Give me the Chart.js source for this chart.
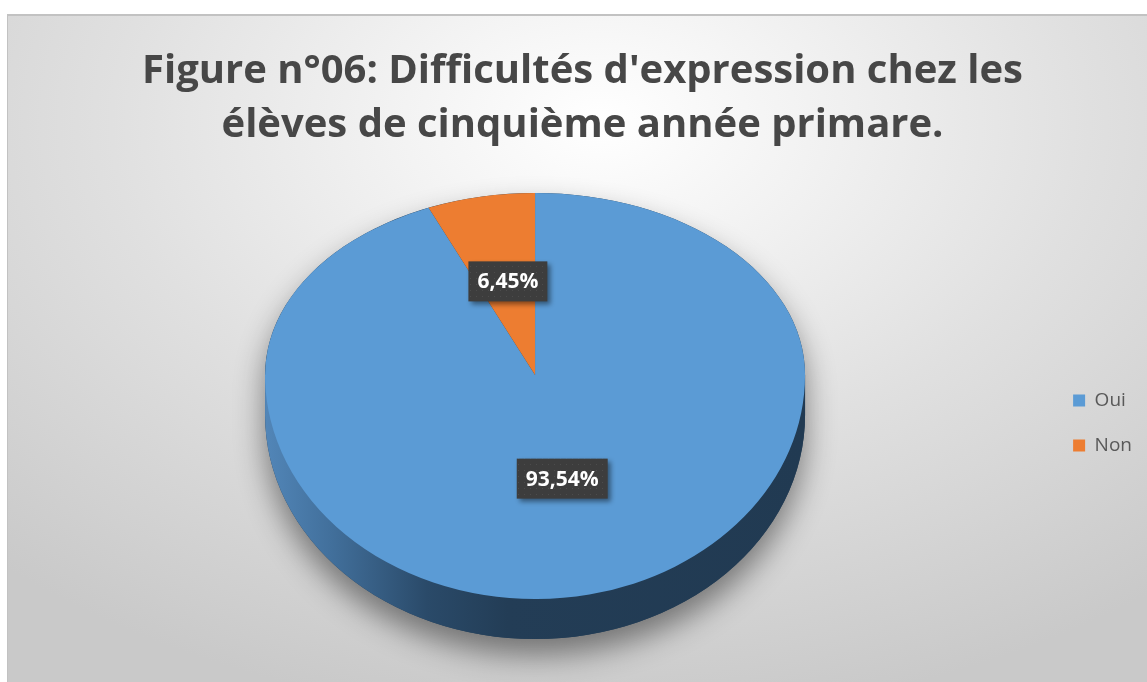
<!DOCTYPE html>
<html>
<head>
<meta charset="utf-8">
<script src="https://cdn.jsdelivr.net/npm/chart.js@4.4.1/dist/chart.umd.min.js"></script>
<style>
  html, body { margin: 0; padding: 0; background: #fff; }
  #frame {
    position: absolute; left: 7px; top: 14px; width: 1140px; height: 668px;
    box-sizing: border-box;
    border-top: 2px solid #c2c2c2; border-left: 1px solid #c2c2c2;
    background: radial-gradient(ellipse 78% 90% at 52% 16%, #ffffff 0%, #f3f3f3 22%, #e0e0e0 55%, #c9c9c9 100%);
  }
  #chart { position: absolute; left: 0; top: 0; }
</style>
</head>
<body>
<div id="frame"></div>
<canvas id="chart" width="1147" height="682"></canvas>
<script>
const categories = ['Oui', 'Non'];
const percentages = [93.54, 6.45];
const sliceColors = ['#5B9BD5', '#ED7D31'];
const titleLines = ["Figure n°06: Difficultés d'expression chez les", "élèves de cinquième année primare."];

// fake 3D look: the disc is squashed and given a side wall
const TOP_FACE_Y = 375;
const SQUASH_TOP = 0.674;
const SQUASH_BOTTOM = 0.83;
const DEPTH = 40;

function formatPct(v) {
  return v.toFixed(2).replace('.', ',') + '%';
}

// perspective-ish vertical mapping for points on the disc (used for labels)
function projectY(dy, r) {
  const c = (SQUASH_BOTTOM - SQUASH_TOP) / (SQUASH_BOTTOM + SQUASH_TOP);
  const k = r * SQUASH_BOTTOM * (1 - c);
  const d = dy / r;
  return k * d / (1 - c * d);
}

// clip to one half of the disc and squash it
function withHalf(chart, half, fn) {
  const ctx = chart.ctx;
  const arc = chart.getDatasetMeta(0).data[0];
  ctx.save();
  ctx.beginPath();
  if (half === 'top') ctx.rect(0, 0, chart.width, TOP_FACE_Y + 1);
  else ctx.rect(0, TOP_FACE_Y, chart.width, chart.height);
  ctx.clip();
  ctx.translate(arc.x, TOP_FACE_Y);
  ctx.scale(1, half === 'top' ? SQUASH_TOP : SQUASH_BOTTOM);
  ctx.translate(-arc.x, -arc.y);
  fn(ctx);
  ctx.restore();
}

function labelPattern(ctx) {
  const c = document.createElement('canvas');
  c.width = 6; c.height = 6;
  const g = c.getContext('2d');
  g.fillStyle = '#3d3d3d';
  g.fillRect(0, 0, 6, 6);
  g.fillStyle = '#4c4c4c';
  g.fillRect(2, 2, 1, 1);
  return ctx.createPattern(c, 'repeat');
}

const pie3d = {
  id: 'pie3d',
  beforeDatasetsDraw(chart) {
    const ctx = chart.ctx;
    const arcs = chart.getDatasetMeta(0).data;
    const x = arcs[0].x;
    const r = arcs[0].outerRadius;

    // drop shadow under the whole body
    ctx.save();
    ctx.shadowColor = 'rgba(0,0,0,0.45)';
    ctx.shadowBlur = 30;
    ctx.shadowOffsetY = 16;
    ctx.fillStyle = '#233d55';
    ctx.beginPath();
    ctx.ellipse(x, TOP_FACE_Y, r, r * SQUASH_TOP, 0, Math.PI, 2 * Math.PI);
    ctx.lineTo(x + r, TOP_FACE_Y + DEPTH);
    ctx.ellipse(x, TOP_FACE_Y + DEPTH, r, r * SQUASH_BOTTOM, 0, 0, Math.PI);
    ctx.closePath();
    ctx.fill();
    ctx.restore();

    // side wall
    const side = ctx.createLinearGradient(x - r, 0, x + r, 0);
    side.addColorStop(0, '#5286b8');
    side.addColorStop(0.12, '#42709c');
    side.addColorStop(0.3, '#2a4a69');
    side.addColorStop(0.45, '#233d56');
    side.addColorStop(1, '#213a52');
    ctx.save();
    ctx.fillStyle = side;
    ctx.beginPath();
    ctx.moveTo(x - r, TOP_FACE_Y);
    ctx.lineTo(x + r, TOP_FACE_Y);
    ctx.lineTo(x + r, TOP_FACE_Y + DEPTH);
    ctx.ellipse(x, TOP_FACE_Y + DEPTH, r, r * SQUASH_BOTTOM, 0, 0, Math.PI);
    ctx.closePath();
    ctx.fill();
    ctx.restore();

    // top face from the library's arcs
    ['top', 'bottom'].forEach(half => {
      withHalf(chart, half, c => arcs.forEach(a => a.draw(c)));
    });

    // data labels
    const pat = labelPattern(ctx);
    ctx.save();
    ctx.font = 'bold 21px "Open Sans"';
    ctx.textAlign = 'center';
    ctx.textBaseline = 'middle';
    arcs.forEach((a, i) => {
      const p = a.tooltipPosition();
      const ly = TOP_FACE_Y + projectY(p.y - a.y, r);
      const text = formatPct(percentages[i]);
      const w = ctx.measureText(text).width + 18;
      const h = 40;
      ctx.save();
      ctx.shadowColor = 'rgba(0,0,0,0.45)';
      ctx.shadowBlur = 5;
      ctx.shadowOffsetX = 3;
      ctx.shadowOffsetY = 3;
      ctx.fillStyle = pat;
      ctx.fillRect(p.x - w / 2, ly - h / 2, w, h);
      ctx.restore();
      ctx.fillStyle = '#ffffff';
      ctx.fillText(text, p.x, ly + 1);
    });
    ctx.restore();
    return false;
  }
};

new Chart(document.getElementById('chart'), {
  type: 'pie',
  data: {
    labels: categories,
    datasets: [{
      data: percentages,
      backgroundColor: sliceColors,
      borderWidth: 0,
      radius: 270
    }]
  },
  options: {
    responsive: false,
    animation: false,
    layout: { padding: { left: 23, right: 5, top: 20, bottom: 0 } },
    plugins: {
      title: {
        display: true,
        text: titleLines,
        color: '#474747',
        font: { family: 'Open Sans', size: 40, weight: 'bold', lineHeight: 1.35 },
        padding: { top: 25, bottom: 11 }
      },
      legend: {
        position: 'right',
        fullSize: false,
        labels: {
          boxWidth: 12,
          boxHeight: 12,
          padding: 26,
          color: '#595959',
          font: { family: 'Open Sans', size: 19 }
        }
      },
      tooltip: { enabled: false }
    }
  },
  plugins: [pie3d]
});
</script>
</body>
</html>
